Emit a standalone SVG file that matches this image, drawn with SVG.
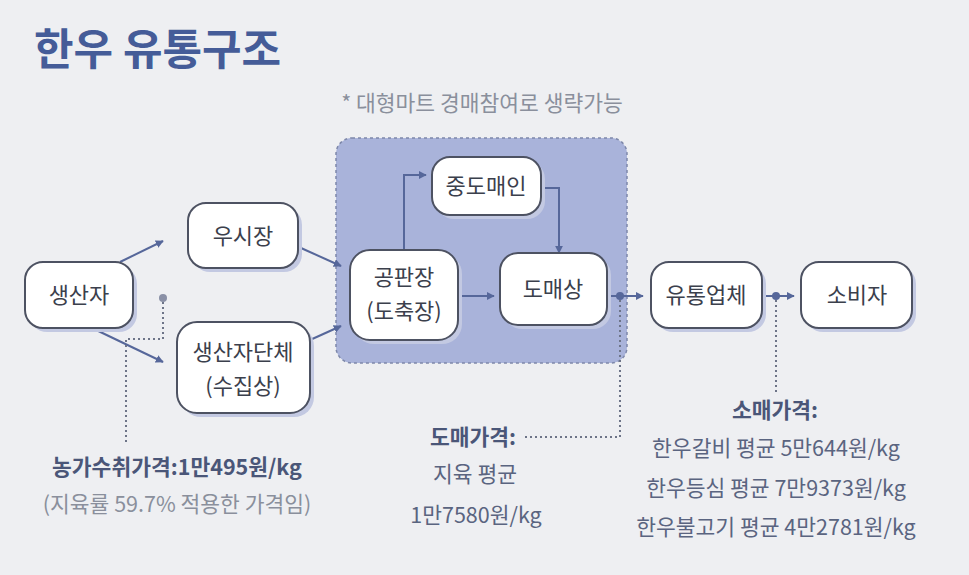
<svg xmlns="http://www.w3.org/2000/svg" width="969" height="575" viewBox="0 0 969 575">
<defs>
<style>
.bg{fill:#eeeff2}
.node rect.box{fill:#ffffff;stroke:#4d5262;stroke-width:2}
.node rect.sh{fill:#c3c9e2}
.nt{font-family:"Noto Sans CJK KR","Noto Sans",sans-serif;font-size:22px;fill:#3b404c;text-anchor:middle}
.ln{fill:none;stroke:#56679a;stroke-width:2}
.dot{fill:none;stroke:#6d7488;stroke-width:2;stroke-dasharray:2 3}
.lab{font-family:"Noto Sans CJK KR","Noto Sans",sans-serif;font-size:21.5px;fill:#5a6480;text-anchor:middle}
.labb{font-weight:bold;fill:#4a5678}
.gray{fill:#8a8f9c}
</style>
<marker id="ah" viewBox="0 0 10 10" refX="9" refY="5" markerWidth="4" markerHeight="4" orient="auto" markerUnits="strokeWidth">
<path d="M0,0 L10,5 L0,10 z" fill="#56679a"/>
</marker>
</defs>
<rect class="bg" x="0" y="0" width="969" height="575"/>
<text x="34" y="65" font-family="'Noto Sans CJK KR','Noto Sans',sans-serif" font-size="43" font-weight="bold" fill="#455c98">한우 유통구조</text>
<text x="482" y="111" class="lab gray" font-size="20.5">* 대형마트 경매참여로 생략가능</text>
<rect x="336" y="138" width="291" height="225" rx="16" fill="#a9b3da" stroke="#7e88aa" stroke-width="1.5" stroke-dasharray="3 3"/>

<g id="connectors">
<path class="ln" d="M120,262 L163,241" marker-end="url(#ah)"/>
<path class="ln" d="M92,328 L163,362" marker-end="url(#ah)"/>
<path class="ln" d="M301,248 L341,266" marker-end="url(#ah)"/>
<path class="ln" d="M310,340 L341,326" marker-end="url(#ah)"/>
<path class="ln" d="M404,250 L404,175 L426,175" marker-end="url(#ah)"/>
<path class="ln" d="M541,188 L559,188 L559,253" marker-end="url(#ah)"/>
<path class="ln" d="M458,296 L494,296" marker-end="url(#ah)"/>
<path class="ln" d="M607,296 L643,296" marker-end="url(#ah)"/>
<path class="ln" d="M762,296 L794,296" marker-end="url(#ah)"/>
<circle cx="620" cy="296" r="4" fill="#56679a"/>
<circle cx="776" cy="296" r="4" fill="#56679a"/>
<circle cx="163" cy="298" r="4" fill="#8a90a6"/>
<path class="dot" d="M163,302 L163,339 L126,339 L126,445"/>
<path class="dot" d="M620,300 L620,437 L525,437"/>
<path class="dot" d="M776,300 L776,395"/>
</g>

<g id="n-producer" class="node">
<rect class="sh" x="29" y="266" width="108" height="66" rx="18"/>
<rect class="box" x="25" y="262" width="108" height="66" rx="18"/>
<text class="nt" x="79" y="303">생산자</text>
</g>
<g id="n-market" class="node">
<rect class="sh" x="192" y="207" width="110" height="65" rx="18"/>
<rect class="box" x="188" y="203" width="110" height="65" rx="18"/>
<text class="nt" x="243" y="244">우시장</text>
</g>
<g id="n-group" class="node">
<rect class="sh" x="181" y="326" width="133" height="91" rx="20"/>
<rect class="box" x="177" y="322" width="133" height="91" rx="20"/>
<text class="nt" x="243" y="360">생산자단체</text>
<text class="nt" x="243" y="394">(수집상)</text>
</g>
<g id="n-auction" class="node">
<rect class="sh" x="354" y="254" width="108" height="90" rx="20"/>
<rect class="box" x="350" y="250" width="108" height="90" rx="20"/>
<text class="nt" x="404" y="285">공판장</text>
<text class="nt" x="404" y="319">(도축장)</text>
</g>
<g id="n-broker" class="node">
<rect class="sh" x="436" y="161" width="109" height="58" rx="18"/>
<rect class="box" x="432" y="157" width="109" height="58" rx="18"/>
<text class="nt" x="486" y="194">중도매인</text>
</g>
<g id="n-wholesale" class="node">
<rect class="sh" x="504" y="257" width="107" height="72" rx="18"/>
<rect class="box" x="500" y="253" width="107" height="72" rx="18"/>
<text class="nt" x="553" y="297">도매상</text>
</g>
<g id="n-retail" class="node">
<rect class="sh" x="655" y="266" width="111" height="66" rx="18"/>
<rect class="box" x="651" y="262" width="111" height="66" rx="18"/>
<text class="nt" x="706" y="303">유통업체</text>
</g>
<g id="n-consumer" class="node">
<rect class="sh" x="805" y="266" width="111" height="66" rx="18"/>
<rect class="box" x="801" y="262" width="111" height="66" rx="18"/>
<text class="nt" x="857" y="303">소비자</text>
</g>

<text class="lab labb" x="177" y="475">농가수취가격:1만495원/kg</text>
<text class="lab gray" x="177" y="512" font-size="20.5">(지육률 59.7% 적용한 가격임)</text>
<text class="lab labb" x="473" y="445">도매가격:</text>
<text class="lab" x="475" y="482">지육 평균</text>
<text class="lab" x="476" y="523">1만7580원/kg</text>
<text class="lab labb" x="775" y="418">소매가격:</text>
<text class="lab" x="776" y="456">한우갈비 평균 5만644원/kg</text>
<text class="lab" x="776" y="496">한우등심 평균 7만9373원/kg</text>
<text class="lab" x="776" y="535">한우불고기 평균 4만2781원/kg</text>
</svg>
